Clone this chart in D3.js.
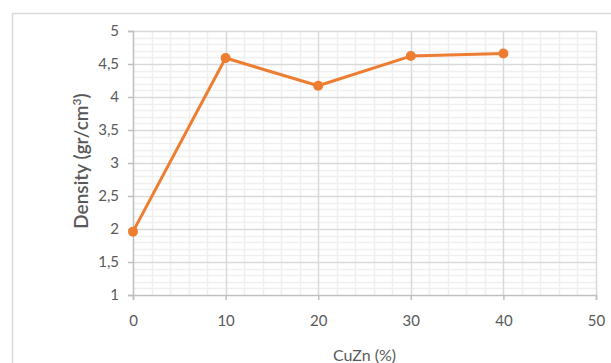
<!DOCTYPE html>
<html>
<head>
<meta charset="utf-8">
<script src="https://d3js.org/d3.v7.min.js"></script>
<style>
  body { margin: 0; background: #fff; }
  text { font-family: Lato, "Open Sans", sans-serif; fill: #595959; }
</style>
</head>
<body>
<div id="chart"></div>
<script>
// data
var cuzn = [0, 10, 20, 30, 40];
var density = [1.96, 4.59, 4.17, 4.62, 4.66];
var xTicks = [0, 10, 20, 30, 40, 50];
var yTicks = [1, 1.5, 2, 2.5, 3, 3.5, 4, 4.5, 5];

var W = 611, H = 363;
var margin = {top: 31, right: 15, bottom: 68, left: 133};
var width = W - margin.left - margin.right;
var height = H - margin.top - margin.bottom;

var svg = d3.select("#chart").append("svg")
  .attr("width", W)
  .attr("height", H);

// outer chart border (right/bottom run off the picture)
svg.append("rect")
  .attr("x", 12.5).attr("y", 13.5)
  .attr("width", 640).attr("height", 400)
  .attr("fill", "none")
  .attr("stroke", "#d9d9d9")
  .attr("stroke-width", 1.5);

var g = svg.append("g")
  .attr("transform", "translate(" + margin.left + "," + margin.top + ")");

var x = d3.scaleLinear().domain([0, 50]).range([0, width]);
var y = d3.scaleLinear().domain([1, 5]).range([height, 0]);

//minor grid
g.append("g").selectAll("line")
  .data(d3.range(1, 5.001, 0.1).filter(d => Math.abs(d * 2 - Math.round(d * 2)) > 0.01))
  .enter().append("line")
    .attr("x1", 0).attr("x2", width)
    .attr("y1", d => Math.round(y(d)) + 0.5).attr("y2", d => Math.round(y(d)) + 0.5)
    .attr("stroke", "#efefef").attr("stroke-width", 1.5);

g.append("g").selectAll("line")
  .data(d3.range(0, 50.001, 2).filter(d => d % 10 != 0))
  .enter().append("line")
    .attr("x1", d => Math.round(x(d)) + 0.5).attr("x2", d => Math.round(x(d)) + 0.5)
    .attr("y1", 0).attr("y2", height)
    .attr("stroke", "#efefef").attr("stroke-width", 1.5);

//major grid
g.append("g").selectAll("line")
  .data(yTicks.slice(1))
  .enter().append("line")
    .attr("x1", 0).attr("x2", width)
    .attr("y1", d => Math.round(y(d)) + 0.5).attr("y2", d => Math.round(y(d)) + 0.5)
    .attr("stroke", "#d9d9d9").attr("stroke-width", 1.5);

g.append("g").selectAll("line")
  .data(xTicks.slice(1))
  .enter().append("line")
    .attr("x1", d => Math.round(x(d)) + 0.5).attr("x2", d => Math.round(x(d)) + 0.5)
    .attr("y1", 0).attr("y2", height)
    .attr("stroke", "#d9d9d9").attr("stroke-width", 1.5);

//axes
var xAxis = g.append("g")
  .attr("transform", "translate(0," + height + ")")
  .call(d3.axisBottom(x).tickValues(xTicks).tickSize(5).tickPadding(15).tickFormat(d3.format("d")));

var yAxis = g.append("g")
  .call(d3.axisLeft(y).tickValues(yTicks).tickSize(5).tickPadding(9)
    .tickFormat(d => String(d).replace(".", ",")));

[xAxis, yAxis].forEach(function(a) {
  a.select(".domain").attr("stroke", "#bfbfbf").attr("stroke-width", 1.5);
  a.selectAll(".tick line").attr("stroke", "#bfbfbf").attr("stroke-width", 1.5);
  a.selectAll(".tick text")
    .attr("fill", "#595959")
    .style("font-family", "Lato, 'Open Sans', sans-serif")
    .style("font-size", "15px");
});

//line and markers
var line = d3.line()
  .x((d, i) => x(cuzn[i]))
  .y(d => y(d));

g.append("path")
  .datum(density)
  .attr("d", line)
  .attr("fill", "none")
  .attr("stroke", "#ed7d31")
  .attr("stroke-width", 3)
  .attr("stroke-linejoin", "round");

g.selectAll(".dot").data(density)
  .enter().append("circle")
    .attr("class", "dot")
    .attr("cx", (d, i) => x(cuzn[i]))
    .attr("cy", d => y(d))
    .attr("r", 5)
    .attr("fill", "#ed7d31");

//axis titles
svg.append("text")
  .attr("x", margin.left + width / 2)
  .attr("y", 361)
  .attr("text-anchor", "middle")
  .style("font-size", "16px")
  .text("CuZn (%)");

var yt = svg.append("text")
  .attr("transform", "translate(88,161) rotate(-90)")
  .attr("text-anchor", "middle")
  .style("font-size", "19px")
  .style("font-weight", "600");
yt.append("tspan").text("Density (gr/cm");
yt.append("tspan").attr("dy", -7).style("font-size", "12px").text("3");
yt.append("tspan").attr("dy", 7).text(")");
</script>
</body>
</html>
